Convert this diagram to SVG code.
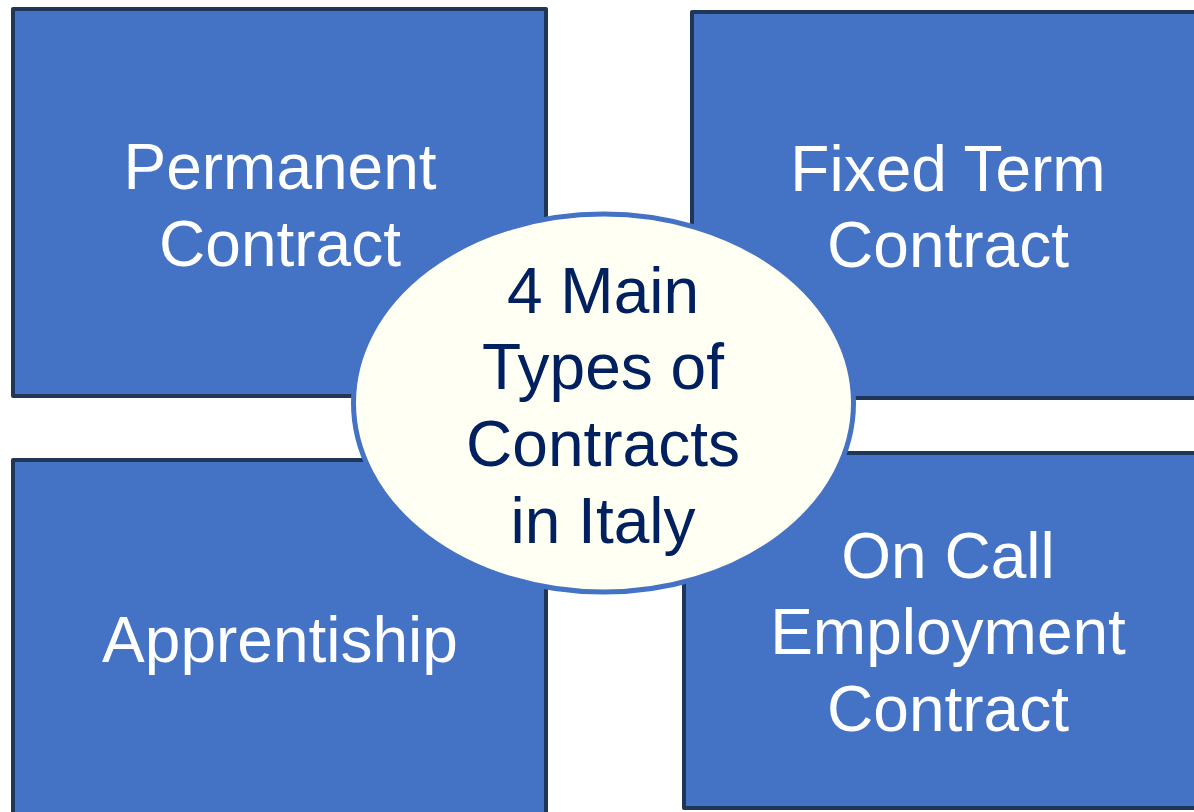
<svg xmlns="http://www.w3.org/2000/svg" width="1194" height="812" viewBox="0 0 1194 812">
<style>
.box{fill:#4472C4;stroke:#1F3659;stroke-width:4;stroke-linejoin:round}
.lbl{font-family:"Liberation Sans",Arial,sans-serif;font-size:64px;fill:#FFFFFF;text-anchor:middle}
.ctr{font-family:"Liberation Sans",Arial,sans-serif;font-size:64px;fill:#002060;text-anchor:middle}
</style>
<rect width="1194" height="812" fill="#FFFFFF"/>
<g id="connectors"></g>
<g id="node-permanent">
<rect class="box" x="13" y="9" width="533" height="387"/>
<text class="lbl" x="280" y="189">Permanent</text>
<text class="lbl" x="280" y="266">Contract</text>
</g>
<g id="node-fixed">
<rect class="box" x="692" y="12" width="520" height="386"/>
<text class="lbl" x="948" y="191">Fixed Term</text>
<text class="lbl" x="948" y="267">Contract</text>
</g>
<g id="node-apprentiship">
<rect class="box" x="13" y="460" width="533" height="380"/>
<text class="lbl" x="280" y="662">Apprentiship</text>
</g>
<g id="node-oncall">
<rect class="box" x="684" y="453" width="528" height="355"/>
<text class="lbl" x="948" y="578">On Call</text>
<text class="lbl" x="948" y="654">Employment</text>
<text class="lbl" x="948" y="731">Contract</text>
</g>
<g id="node-center">
<ellipse cx="603.5" cy="403" rx="250" ry="189" fill="#FFFFF3" stroke="#4472C4" stroke-width="5"/>
<text class="ctr" x="603" y="313">4 Main</text>
<text class="ctr" x="603" y="389">Types of</text>
<text class="ctr" x="603" y="466">Contracts</text>
<text class="ctr" x="603" y="543">in Italy</text>
</g>
</svg>
